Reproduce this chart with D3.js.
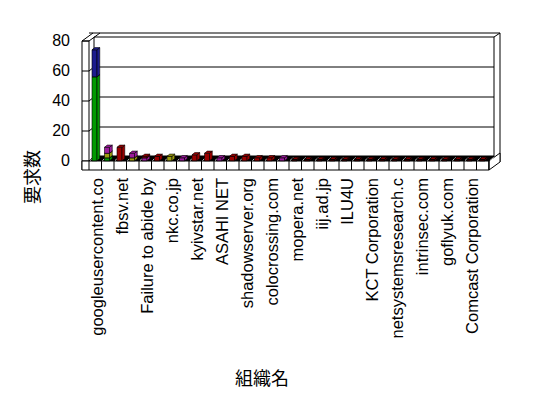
<!DOCTYPE html>
<html>
<head>
<meta charset="utf-8">
<script src="https://cdn.jsdelivr.net/npm/d3@7"></script>
<style>
  body { margin: 0; background: #fff; }
  text { font-family: "Liberation Sans", Arial, sans-serif; fill: #000; }
  .jp { font-family: "Noto Sans CJK JP", sans-serif; }
</style>
</head>
<body>
<div id="chart"></div>
<script>
// categories (only every second one is labelled on the axis)
const categories = [
  "googleusercontent.co", "", "fbsv.net", "", "Failure to abide by", "", "nkc.co.jp", "",
  "kyivstar.net", "", "ASAHI NET", "", "shadowserver.org", "", "colocrossing.com", "",
  "mopera.net", "", "iij.ad.jp", "", "ILU4U", "", "KCT Corporation", "",
  "netsystemsresearch.c", "", "intrinsec.com", "", "goflyuk.com", "", "Comcast Corporation", ""
];
// stacked series, bottom to top
const greenValues  = [56, 2, 0, 0, 0, 0, 0, 0, 0, 0, 0, 0, 0, 0, 0, 0, 0, 0, 0, 0, 0, 0, 0, 0, 0, 0, 0, 0, 0, 0, 0, 0];
const blueValues   = [18, 0, 0, 0, 0, 0, 0, 0, 0, 0, 0, 0, 0, 0, 0, 0, 0, 0, 0, 0, 0, 0, 0, 0, 0, 0, 0, 0, 0, 0, 0, 0];
const oliveValues  = [0, 3, 0, 2, 0, 0, 3, 0, 0, 0, 0, 0, 0, 0, 0, 0, 0, 0, 0, 0, 0, 0, 0, 0, 0, 0, 0, 0, 0, 0, 0, 0];
const purpleValues = [0, 4, 0, 3, 2, 0, 0, 2, 0, 0, 2, 0, 0, 0, 0, 2, 0, 0, 0, 0, 0, 0, 0, 0, 0, 0, 0, 0, 0, 0, 0, 0];
const maroonValues = [0, 0, 9, 0, 1, 3, 0, 0, 4, 5, 0, 3, 3, 2, 2, 0, 1, 1, 1, 1, 1, 1, 1, 1, 1, 1, 1, 1, 1, 1, 1, 1];
const seriesColors = ["#009a00", "#1c1c8e", "#9c9c10", "#9c1c9c", "#9a0000"];
const yTicks = [0, 20, 40, 60, 80];

const width = 548, height = 398;
const svg = d3.select("#chart").append("svg")
  .attr("width", width).attr("height", height);

// front plane scales + depth offset to the back plane
const x = d3.scaleBand().domain(d3.range(categories.length))
  .range([89, 489]).paddingInner(0.6).paddingOuter(0.3);
const y = d3.scaleLinear().domain([0, 80]).range([161, 41]);
const depth = { dx: 5, dy: -4 };   // front -> back of the plot
const wall = { dx: 6, dy: -4 };    // wall thickness behind the back wall
const x0 = 89, x1 = 489;

const line = (a, b) => svg.append("line")
  .attr("x1", a[0]).attr("y1", a[1]).attr("x2", b[0]).attr("y2", b[1])
  .attr("stroke", "#000").attr("stroke-width", 1);
const poly = (pts, fill) => svg.append("polygon")
  .attr("points", pts.map(p => p.join(",")).join(" "))
  .attr("fill", fill).attr("stroke", "#000").attr("stroke-width", 1);

//back wall
const bx0 = x0 + depth.dx, bx1 = x1 + depth.dx;
const by = v => y(v) + depth.dy;
poly([[bx0, by(80)], [bx1, by(80)], [bx1, by(0)], [bx0, by(0)]], "#fff");
line([bx0 - 5, by(80) + wall.dy], [bx1 + wall.dx, by(80) + wall.dy]);
line([bx1, by(80)], [bx1 + wall.dx, by(80) + wall.dy]);
line([bx1 + wall.dx, by(80) + wall.dy], [bx1 + wall.dx, y(0) + 1]);

//gridlines, back wall and left wall
yTicks.filter(v => v > 0 && v < 80).forEach(v => {
  line([bx0, by(v)], [bx1, by(v)]);
  line([x0, y(v)], [bx0, by(v)]);
});

//left wall
line([82, y(80)], [82, 170]);
line([x0, y(80)], [x0, y(0)]);
line([82, y(80)], [x0, y(80)]);
line([82, y(80)], [82 + depth.dx + wall.dx, y(80) + depth.dy + wall.dy]);
line([x0, y(80)], [bx0 + wall.dx, by(80) + wall.dy]);
yTicks.forEach(v => line([82, y(v)], [x0, y(v)]));

//floor
poly([[x0, y(0)], [x1, y(0)], [bx1, by(0) - 1], [bx0, by(0) - 1]], "#000");
poly([[82, y(0)], [x1, y(0)], [x1, 170], [82, 170]], "#fff");
poly([[x1, y(0)], [bx1 + wall.dx, by(0) + wall.dy], [bx1 + wall.dx, 170 + depth.dy + wall.dy], [x1, 170]], "#fff");
const step = x.step();
d3.range(categories.length + 1).forEach(i => {
  const tx = x0 + i * step;
  line([tx, y(0)], [tx, 170]);
  svg.append("line")
    .attr("x1", tx + 1).attr("y1", y(0) - 0.5)
    .attr("x2", tx + depth.dx - 0.5).attr("y2", by(0) + 0.5)
    .attr("stroke", "#fff").attr("stroke-width", 0.8);
});

//bars
const stack = d3.stack().keys(d3.range(5))
  .value((d, k) => d[k]);
const rows = categories.map((c, i) =>
  [greenValues[i], blueValues[i], oliveValues[i], purpleValues[i], maroonValues[i]]);
const layers = stack(rows);
const f0 = 0.05, f1 = 0.6;
const front = { dx: depth.dx * f0, dy: depth.dy * f0 };
const bd = { dx: depth.dx * (f1 - f0), dy: depth.dy * (f1 - f0) };

const barG = svg.append("g");
categories.forEach((c, i) => {
  layers.forEach((layer, k) => {
    const [v0, v1] = layer[i];
    if (v1 - v0 <= 0) return;
    const l = x(i) + front.dx - 1, r = l + x.bandwidth();
    const t = y(v1) + front.dy, b = y(v0) + front.dy;
    const col = seriesColors[k];
    const thin = v1 <= 1;
    const g = barG.append("g").attr("stroke", "#000").attr("stroke-width", thin ? 1 : 0.6);
    const p = pts => g.append("polygon").attr("points", pts.map(q => q.join(",")).join(" ")).attr("fill", col);
    p([[l, t], [r, t], [r, b], [l, b]]);
    p([[r, t], [r + bd.dx, t + bd.dy], [r + bd.dx, b + bd.dy], [r, b]]);
    p([[l, t], [l + bd.dx, t + bd.dy], [r + bd.dx, t + bd.dy], [r, t]]);
  });
});

//value labels
svg.append("g").selectAll("text").data(yTicks).join("text")
  .attr("x", 70).attr("y", d => y(d) - 1)
  .attr("text-anchor", "end").attr("dominant-baseline", "central")
  .attr("font-size", 16).text(d => d);

//category labels
svg.append("g").selectAll("text")
  .data(categories.map((c, i) => ({ c, i })).filter(d => d.c !== ""))
  .join("text")
  .attr("transform", d => `translate(${x(d.i) + x.bandwidth() / 2 + 2},178) rotate(-90)`)
  .attr("text-anchor", "end").attr("dominant-baseline", "central")
  .attr("font-size", 16.5).text(d => d.c);

//axis titles
svg.append("text").attr("class", "jp")
  .attr("transform", "translate(31,177) rotate(-90)")
  .attr("text-anchor", "middle").attr("dominant-baseline", "central")
  .attr("font-size", 18).text("要求数");
svg.append("text").attr("class", "jp")
  .attr("x", 262).attr("y", 377)
  .attr("text-anchor", "middle").attr("dominant-baseline", "central")
  .attr("font-size", 18).text("組織名");
</script>
</body>
</html>
